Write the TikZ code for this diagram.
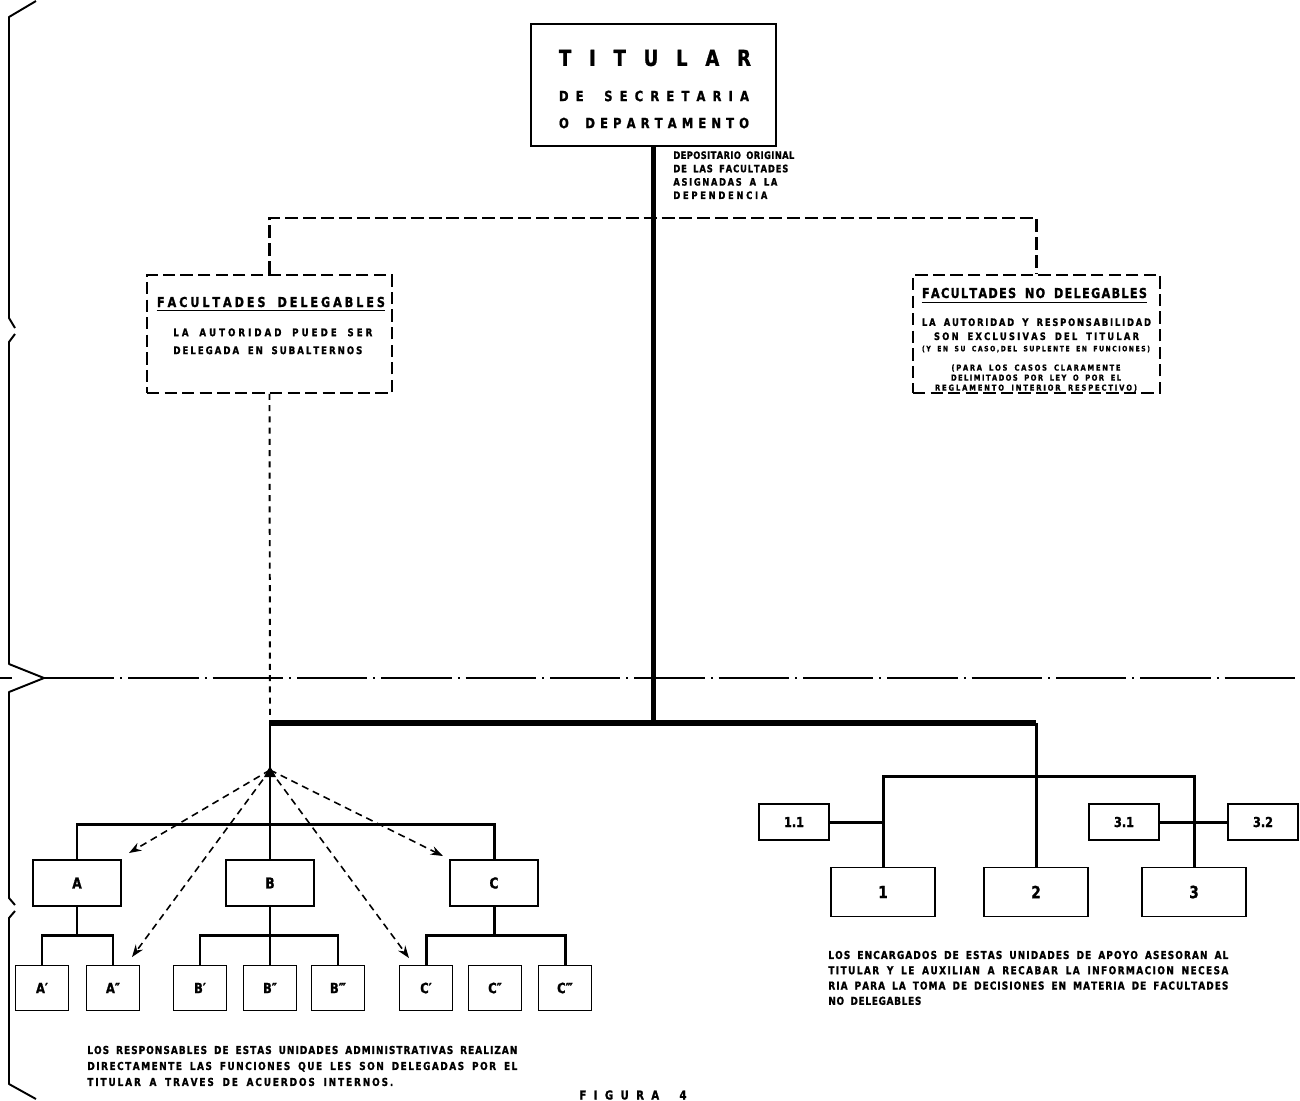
\documentclass[tikz,border=0pt]{standalone}
\usepackage{fontspec}
\setmainfont{DejaVu Sans}[FakeStretch=0.82, BoldFeatures={FakeBold=1.2}]
\usetikzlibrary{arrows.meta}
\newlength\pxu
\setlength\pxu{0.02cm}
\ExplSyntaxOn
\seq_new:N \l__rs_words_seq
\bool_new:N \l__rs_first_bool
\NewDocumentCommand \ev { m m }
  {
    \seq_set_split:Nnn \l__rs_words_seq { ~ } {#2}
    \hbox_to_wd:nn { #1 \pxu }
      {
        \bool_set_true:N \l__rs_first_bool
        \seq_map_inline:Nn \l__rs_words_seq
          {
            \bool_if:NF \l__rs_first_bool { \hskip 0.45em plus 1fil \relax }
            \tl_map_inline:nn {##1}
              {
                \bool_if:NF \l__rs_first_bool { \hskip 0pt plus 1fil \relax }
                \bool_set_false:N \l__rs_first_bool
                ####1
              }
          }
      }
  }
\ExplSyntaxOff
\newcommand\fs[1]{\fontsize{#1}{#1}\selectfont}
\begin{document}
\begin{tikzpicture}[x=0.02cm,y=-0.02cm,
  every node/.style={inner sep=0pt, font=\bfseries},
  tbox/.style={draw, line width=1pt, minimum width=245\pxu, minimum height=122\pxu},
  dbox/.style={draw, line width=1.1pt, dash pattern=on 7pt off 3pt, minimum width=#1, minimum height=118\pxu},
  abox/.style={draw, line width=0.9pt, minimum width=88\pxu, minimum height=46\pxu, font=\bfseries\fs{8.5}},
  lbox/.style={draw, line width=0.9pt, minimum width=53\pxu, minimum height=45\pxu, font=\bfseries\fs{8}},
  rbox/.style={draw, line width=0.9pt, minimum width=104\pxu, minimum height=49\pxu, font=\bfseries\fs{9.5}},
  sbox/.style={draw, line width=0.9pt, minimum width=70\pxu, minimum height=36\pxu, font=\bfseries\fs{7.8}},
  heavy/.style={line width=3.1pt},
  conn/.style={line width=1.7pt},
  topdash/.style={line width=1.2pt, dash pattern=on 7.4pt off 2.8pt},
  vdash/.style={line width=1.1pt, dash pattern=on 3.4pt off 3pt},
  darr/.style={line width=0.9pt, dash pattern=on 4pt off 2.8pt, -{Stealth[length=7pt,width=5pt]}},
  dashdot/.style={line width=0.8pt, dash pattern=on 40pt off 3.5pt on 1pt off 3.5pt},
  brk/.style={line width=1.1pt, line join=round},
  ul/.style={line width=1pt}]
\useasboundingbox (0,0) rectangle (1300,1100);

% left brackets
\draw[brk] (36,1) -- (9,17) -- (9,318) -- (15,328);
\draw[brk] (15,334) -- (9,342) -- (9,664) -- (44,678) -- (9,692) -- (9,898) -- (15,905);
\draw[brk] (15,911) -- (9,918) -- (9,1084) -- (36,1099);
\draw[brk] (0,678) -- (12,678);
\draw[dashdot] (44,678) -- (1300,678);

% top box
\node[tbox] (tit) at (653.5,85) {};
\node[font=\bfseries\fs{12.5}] (tit1) at (655,58) {\ev{192}{TITULAR}};
\node[font=\bfseries\fs{8}] (tit2) at (654,96) {\ev{190}{DE SECRETARIA}};
\node[font=\bfseries\fs{8}] (tit3) at (654,123) {\ev{190}{O DEPARTAMENTO}};
\node[anchor=north west, align=left, font=\bfseries\fontsize{5.8}{7.6}\selectfont] (dep) at (673,151)
  {\ev{121}{DEPOSITARIO ORIGINAL}\\ \ev{115}{DE LAS FACULTADES}\\ \ev{104}{ASIGNADAS A LA}\\ \ev{94}{DEPENDENCIA}};

% dashed boxes
\node[dbox=245\pxu] (fd) at (269.5,334) {};
\node[dbox=247\pxu] (fnd) at (1036.5,334) {};
\coordinate (tl) at (269.5,218);
\coordinate (tr) at (1036.5,218);
\draw[topdash] (fd.north) -- (tl) -- (tr) -- (fnd.north);

\node[font=\bfseries\fs{7.8}] (fdT) at (271,302) {\ev{228}{FACULTADES DELEGABLES}};
\draw[ul] ([yshift=-1.7pt]fdT.south west) -- ([yshift=-1.7pt]fdT.south east);
\node[anchor=north west, align=left, font=\bfseries\fontsize{6}{10.2}\selectfont] (fdB) at (173,328)
  {\ev{199}{LA AUTORIDAD PUEDE SER}\\ \ev{189}{DELEGADA EN SUBALTERNOS}};

\node[font=\bfseries\fs{7.8}] (fndT) at (1034.5,293) {\ev{225}{FACULTADES NO DELEGABLES}};
\draw[ul] ([yshift=-2.3pt]fndT.south west) -- ([yshift=-2.3pt]fndT.south east);
\node[anchor=north, align=center, font=\bfseries\fontsize{5.8}{8}\selectfont] (fndA) at (1036.5,318)
  {\ev{229}{LA AUTORIDAD Y RESPONSABILIDAD}\\ \ev{205}{SON EXCLUSIVAS DEL TITULAR}};
\node[font=\bfseries\fs{4.2}] (fndB) at (1036,349) {\ev{228}{(Y EN SU CASO,DEL SUPLENTE EN FUNCIONES)}};
\node[anchor=north, align=center, font=\bfseries\fontsize{4.7}{5.7}\selectfont] (fndC) at (1036,364)
  {\ev{169}{(PARA LOS CASOS CLARAMENTE}\\ \ev{170}{DELIMITADOS POR LEY O POR EL}\\ \ev{202}{REGLAMENTO INTERIOR RESPECTIVO)}};

% main trunk
\coordinate (j0) at (270,723);
\coordinate (j2) at (1036,723);
\draw[vdash] (fd.south) -- (j0);
\draw[heavy] (tit.south) -- (tit.south |- j0);
\draw[heavy] (j2) -- (j0);

% left tree
\node[abox] (A) at (77,883) {A};
\node[abox] (B) at (270,883) {B};
\node[abox] (C) at (494,883) {C};
\node[lbox] (A1) at (42,988) {A′};
\node[lbox] (A2) at (113,988) {A″};
\node[lbox] (B1) at (200,988) {B′};
\node[lbox] (B2) at (270,988) {B″};
\node[lbox] (B3) at (338,988) {B‴};
\node[lbox] (C1) at (426,988) {C′};
\node[lbox] (C2) at (495,988) {C″};
\node[lbox] (C3) at (565,988) {C‴};
\coordinate (abcJ) at (270,824);
\coordinate (aJ) at (77,935);
\coordinate (bJ) at (270,935);
\coordinate (cJ) at (494,935);
\draw[conn] (j0) -- (B.north);
\draw[conn] (A.north) -- (A.north |- abcJ) -- (C.north |- abcJ) -- (C.north);
\draw[conn] (A.south) -- (aJ);
\draw[conn] (A1.north) -- (A1.north |- aJ) -- (A2.north |- aJ) -- (A2.north);
\draw[conn] (B.south) -- (B2.north);
\draw[conn] (B1.north) -- (B1.north |- bJ) -- (B3.north |- bJ) -- (B3.north);
\draw[conn] (C.south) -- (cJ);
\draw[conn] (C1.north) -- (C1.north |- cJ) -- (C3.north |- cJ) -- (C3.north);

% dashed arrows
\coordinate (o) at (270,770);
\coordinate (eA) at (129,853);
\coordinate (eA2) at (132,957);
\coordinate (eC1) at (409,958);
\coordinate (eC) at (443,856);
\fill (264,777) -- (270,766) -- (276,777) -- cycle;
\draw[darr] (o) -- (eA);
\draw[darr] (o) -- (eA2);
\draw[darr] (o) -- (eC1);
\draw[darr] (o) -- (eC);

% right tree
\node[rbox] (n1) at (883,892) {1};
\node[rbox] (n2) at (1036,892) {2};
\node[rbox] (n3) at (1194,892) {3};
\node[sbox] (n11) at (794,822) {1.1};
\node[sbox] (n31) at (1124,822) {3.1};
\node[sbox] (n32) at (1263,822) {3.2};
\coordinate (r1) at (883,776);
\coordinate (r3) at (1194,776);
\draw[conn] (j2) -- (n2.north);
\draw[conn] (n1.north) -- (r1) -- (r3) -- (n3.north);
\draw[conn] (n11.east) -- (n11.east -| r1);
\draw[conn] (n31.east) -- (n32.west);

% notes
\node[anchor=north west, align=left, font=\bfseries\fontsize{6.2}{8.7}\selectfont] (noteR) at (828,950.5)
  {\ev{400}{LOS ENCARGADOS DE ESTAS UNIDADES DE APOYO ASESORAN AL}\\
   \ev{400}{TITULAR Y LE AUXILIAN A RECABAR LA INFORMACION NECESA}\\
   \ev{400}{RIA PARA LA TOMA DE DECISIONES EN MATERIA DE FACULTADES}\\
   \ev{93}{NO DELEGABLES}};
\node[anchor=north west, align=left, font=\bfseries\fontsize{6.2}{9.1}\selectfont] (noteL) at (87,1045.5)
  {\ev{430}{LOS RESPONSABLES DE ESTAS UNIDADES ADMINISTRATIVAS REALIZAN}\\
   \ev{430}{DIRECTAMENTE LAS FUNCIONES QUE LES SON DELEGADAS POR EL}\\
   \ev{306}{TITULAR A TRAVES DE ACUERDOS INTERNOS.}};
\node[font=\bfseries\fs{7}] (fig) at (633,1095) {\ev{107}{FIGURA 4}};
\end{tikzpicture}
\end{document}
